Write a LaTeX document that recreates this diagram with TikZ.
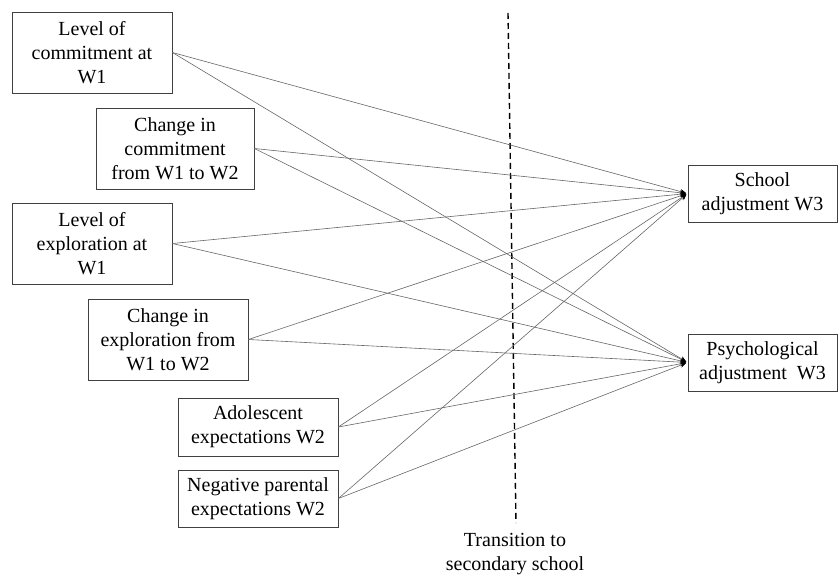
\documentclass[tikz,border=0pt]{standalone}
\usepackage{fontspec}
\setmainfont{Liberation Serif}
\usetikzlibrary{arrows.meta}
\begin{document}
\begin{tikzpicture}[x=1pt,y=-1pt,
  varbox/.style={draw=black!75,line width=0.8pt,align=center,inner sep=0pt,
    font=\fontsize{20}{24}\selectfont,text=black},
  path/.style={draw=black!60,line width=0.6pt,-{Stealth[length=6pt,width=5pt,black]},shorten >=1.5pt},
  transline/.style={draw=black,line width=1.4pt,dash pattern=on 6pt off 4pt}]
\useasboundingbox (0,0) rectangle (838,575);
\node[varbox,minimum width=160,minimum height=81] (c1) at (92,52.5) {Level of\\commitment at\\W1};
\node[varbox,minimum width=158,minimum height=81] (c2) at (175,148.5) {Change in\\commitment\\from W1 to W2};
\node[varbox,minimum width=160,minimum height=81] (e1) at (92,243.5) {Level of\\exploration at\\W1};
\node[varbox,minimum width=160,minimum height=81] (e2) at (168,339.5) {Change in\\exploration from\\W1 to W2};
\node[varbox,minimum width=160,minimum height=58] (ad) at (258,427) {Adolescent\\expectations W2};
\node[varbox,minimum width=160,minimum height=57] (np) at (258,498.5) {Negative parental\\expectations W2};
\node[varbox,minimum width=149,minimum height=57] (sa) at (762.5,193.5) {School\\adjustment W3};
\node[varbox,minimum width=149,minimum height=57] (pa) at (762.5,362.5) {Psychological\\adjustment\ \ W3};
\coordinate (dtop) at (508,13);
\coordinate (dbot) at (516,523);
\draw[transline] (dtop) -- (dbot);
\node[font=\fontsize{20}{24}\selectfont,align=center,inner sep=0pt,anchor=north,text=black] (tr) at (515,533) {Transition to\\secondary school};
\foreach \s in {c1,c2,e1,e2,ad,np}{
  \draw[path] (\s.east) -- (sa.west);
  \draw[path] (\s.east) -- (pa.west);
}
\end{tikzpicture}
\end{document}
